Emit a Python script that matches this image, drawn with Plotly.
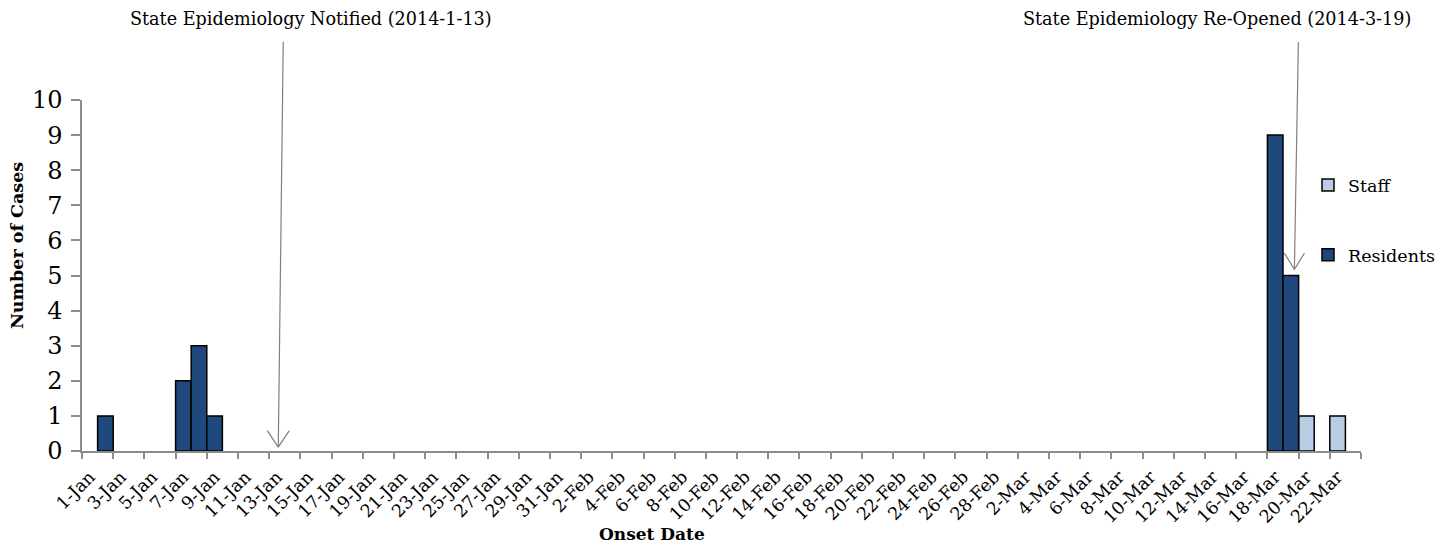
import plotly.graph_objects as go

# ---- data ----
residents_dates = ["2014-01-02", "2014-01-07", "2014-01-08", "2014-01-09", "2014-03-18", "2014-03-19"]
residents_counts = [1, 2, 3, 1, 9, 5]
staff_dates = ["2014-03-20", "2014-03-22"]
staff_counts = [1, 1]

DAY_MS = 86400000
FONT = "DejaVu Serif"
AXIS_GREY = "#8c8c8c"
ARROW_GREY = "#7f7f7f"

fig = go.Figure()
fig.add_trace(go.Bar(
    x=staff_dates, y=staff_counts, name="Staff", legendgroup="staff",
    width=[DAY_MS] * len(staff_dates),
    marker=dict(color="#b9cde5", line=dict(color="#000000", width=1.5)),
))
fig.add_trace(go.Bar(
    x=residents_dates, y=residents_counts, name="Residents", legendgroup="res",
    width=[DAY_MS] * len(residents_dates),
    marker=dict(color="#1f497d", line=dict(color="#000000", width=1.5)),
))

# page body has an 8px margin, compensate
fig.update_layout(
    width=1450, height=548,
    margin=dict(l=74, r=97, t=92, b=105, pad=0),
    paper_bgcolor="white", plot_bgcolor="white",
    barmode="overlay",
    font=dict(family=FONT, color="#000000"),
    showlegend=True,
    legend=dict(
        x=(1308 - 82) / 1279, xanchor="left", y=(450.7 - 167) / 350.7, yanchor="top",
        bgcolor="rgba(0,0,0,0)", font=dict(size=17.5, family=FONT),
        traceorder="grouped", tracegroupgap=44,
    ),
    xaxis=dict(
        type="date",
        range=["2013-12-31 12:00", "2014-03-23 12:00"],
        tick0="2014-01-01", dtick=2 * DAY_MS, tickformat="%-d-%b",
        tickangle=-45, ticks="", showgrid=False, ticklabelstandoff=7,
        tickfont=dict(size=17.5, family=FONT),
        showline=True, linecolor=AXIS_GREY, linewidth=1.5,
        minor=dict(ticks="outside", tick0="2013-12-31 12:00", dtick=2 * DAY_MS,
                   ticklen=6, tickcolor=AXIS_GREY, tickwidth=1.5, showgrid=False),
        zeroline=False,
    ),
    yaxis=dict(
        range=[0, 10], dtick=1, ticks="outside", ticklen=9, tickcolor=AXIS_GREY, tickwidth=1.5,
        showline=True, linecolor=AXIS_GREY, linewidth=1.5, showgrid=False, zeroline=False,
        tickfont=dict(size=24, family=FONT), ticklabelstandoff=4,
    ),
)

def arrow(x, y, ax, ay):
    return dict(text="", x=x, y=y, xref="x", yref="y", showarrow=True,
                ax=ax, ay=ay, axref="pixel", ayref="pixel",
                arrowhead=0, arrowwidth=1.2, arrowcolor=ARROW_GREY, standoff=0)

annotations = [
    dict(text="<b>Number of Cases</b>", xref="paper", yref="paper",
         x=(17 - 82) / 1279, y=(450.7 - 246) / 350.7, textangle=-90,
         showarrow=False, font=dict(size=17.5, family=FONT), xanchor="center", yanchor="middle"),
    dict(text="<b>Onset Date</b>", xref="paper", yref="paper",
         x=(652 - 82) / 1279, y=(450.7 - 534) / 350.7,
         showarrow=False, font=dict(size=17, family=FONT), xanchor="center", yanchor="middle"),
    dict(text="State Epidemiology Notified (2014-1-13)", xref="paper", yref="paper",
         x=(311 - 82) / 1279, y=(450.7 - 19) / 350.7,
         showarrow=False, font=dict(size=17.6, family=FONT), xanchor="center", yanchor="middle"),
    dict(text="State Epidemiology Re-Opened (2014-3-19)", xref="paper", yref="paper",
         x=(1217 - 82) / 1279, y=(450.7 - 19) / 350.7,
         showarrow=False, font=dict(size=17.6, family=FONT), xanchor="center", yanchor="middle"),
]
# arrow 1: shaft + two arms of open V head
tip1 = ("2014-01-13 02:00", 0.11)
annotations += [arrow(*tip1, 5, -407), arrow(*tip1, -12, -18), arrow(*tip1, 12, -18)]
tip2 = ("2014-03-19 05:30", 5.17)
annotations += [arrow(*tip2, 4, -229), arrow(*tip2, -11, -18), arrow(*tip2, 11, -18)]
fig.update_layout(annotations=annotations)

fig.write_html("out.html")
